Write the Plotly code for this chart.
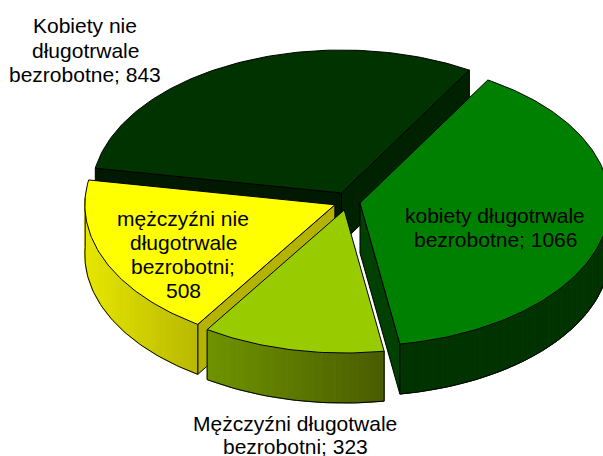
import math
import plotly.graph_objects as go

label_lines = [["Kobiety nie", "długotrwale", "bezrobotne; 843"],
               ["kobiety długotrwale", "bezrobotne; 1066"],
               ["Mężczyźni długotwale", "bezrobotni; 323"],
               ["mężczyźni nie", "długotrwale", "bezrobotni;", "508"]]
values = [843, 1066, 323, 508]
top_colors = ["#003300", "#008000", "#99CC00", "#FFFF00"]
cut_start = ["#001900", "#003300", "#668800", "#B3B300"]
cut_end = ["#002200", "#004000", "#668800", "#B3B300"]
wall_left = ["#001900", "#003300", "#6F9300", "#E6E600"]
wall_right = ["#001900", "#003300", "#4A5C00", "#B8B800"]
label_x = [85, 495, 295, 183]
label_y = [[25, 50, 74], [215, 239], [423, 446], [218, 242, 266, 290]]
paint_order = [0, 1, 3, 2]

START = 280.0      # clockwise degrees from the top, first slice
A, B, DEPTH = 250, 143, 50
CX, CY = 347, 201.2
EX, EY = 13.2, 9.0

total = sum(values)


def hex_rgb(c):
    return tuple(int(c[i:i + 2], 16) for i in (1, 3, 5))


def mix(c1, c2, t):
    a, b = hex_rgb(c1), hex_rgb(c2)
    return "rgb(%d,%d,%d)" % tuple(round(a[i] + (b[i] - a[i]) * t) for i in range(3))


def pt(cx, cy, deg):
    r = math.radians(deg)
    return cx + A * math.sin(r), cy - B * math.cos(r)


fig = go.Figure()


def poly(xs, ys, fill, line=None, width=1):
    fig.add_trace(go.Scatter(x=xs, y=ys, mode="lines", fill="toself", fillcolor=fill,
                             line=dict(color=line or fill, width=width),
                             hoverinfo="skip", showlegend=False))


def stroke(xs, ys):
    fig.add_trace(go.Scatter(x=xs, y=ys, mode="lines", line=dict(color="#000000", width=1),
                             hoverinfo="skip", showlegend=False))


spans = []
angle = START
for v in values:
    sweep = v / total * 360
    spans.append((angle, angle + sweep))
    angle += sweep

for i in paint_order:
    a0, a1 = spans[i]
    mid = math.radians((a0 + a1) / 2)
    cx = CX + EX * math.sin(mid)
    cy = CY - EY * math.cos(mid)
    n = max(24, int(a1 - a0))
    arc = [a0 + (a1 - a0) * k / n for k in range(n + 1)]
    rim = [pt(cx, cy, d) for d in arc]

    # cut faces: only those that face the viewer
    faces = []
    if math.sin(math.radians(a0)) < 0:
        faces.append((rim[0], cut_start[i]))
    if math.sin(math.radians(a1)) > 0:
        faces.append((rim[-1], cut_end[i]))
    for end, colr in faces:
        poly([cx, end[0], end[0], cx, cx], [cy, end[1], end[1] + DEPTH, cy + DEPTH, cy],
             colr, "#000000", 1)

    # outer wall, shaded left to right
    front = [k for k in range(n) if math.cos(math.radians((arc[k] + arc[k + 1]) / 2)) < 0.05]
    if front:
        seq = [rim[k] for k in front] + [rim[front[-1] + 1]]
        lo, hi = min(p[0] for p in seq), max(p[0] for p in seq)
        for p, q in zip(seq, seq[1:]):
            t = ((p[0] + q[0]) / 2 - lo) / (hi - lo)
            col = mix(wall_left[i], wall_right[i], t)
            poly([p[0], q[0], q[0], p[0], p[0]],
                 [p[1], q[1], q[1] + DEPTH, p[1] + DEPTH, p[1]], col, col, 1)
        stroke([p[0] for p in seq], [p[1] + DEPTH for p in seq])
        for p in (seq[0], seq[-1]):
            stroke([p[0], p[0]], [p[1], p[1] + DEPTH])

    # top face
    xs = [cx] + [p[0] for p in rim] + [cx]
    ys = [cy] + [p[1] for p in rim] + [cy]
    poly(xs, ys, top_colors[i], "#000000", 1)

annotations = []
for lines, x, ys in zip(label_lines, label_x, label_y):
    for line, y in zip(lines, ys):
        annotations.append(dict(x=x, y=y, xref="x", yref="y", text=line, showarrow=False,
                                align="center",
                                font=dict(family="Liberation Sans", size=21, color="#000000")))

fig.update_layout(width=603, height=456, margin=dict(l=0, r=0, t=0, b=0),
                  paper_bgcolor="#FFFFFF", plot_bgcolor="#FFFFFF", annotations=annotations,
                  xaxis=dict(range=[0, 603], visible=False, fixedrange=True),
                  yaxis=dict(range=[456, 0], visible=False, fixedrange=True))
fig.write_html("out.html", config=dict(displayModeBar=False),
               post_script="document.body.style.margin='0';document.body.style.overflow='hidden';")
